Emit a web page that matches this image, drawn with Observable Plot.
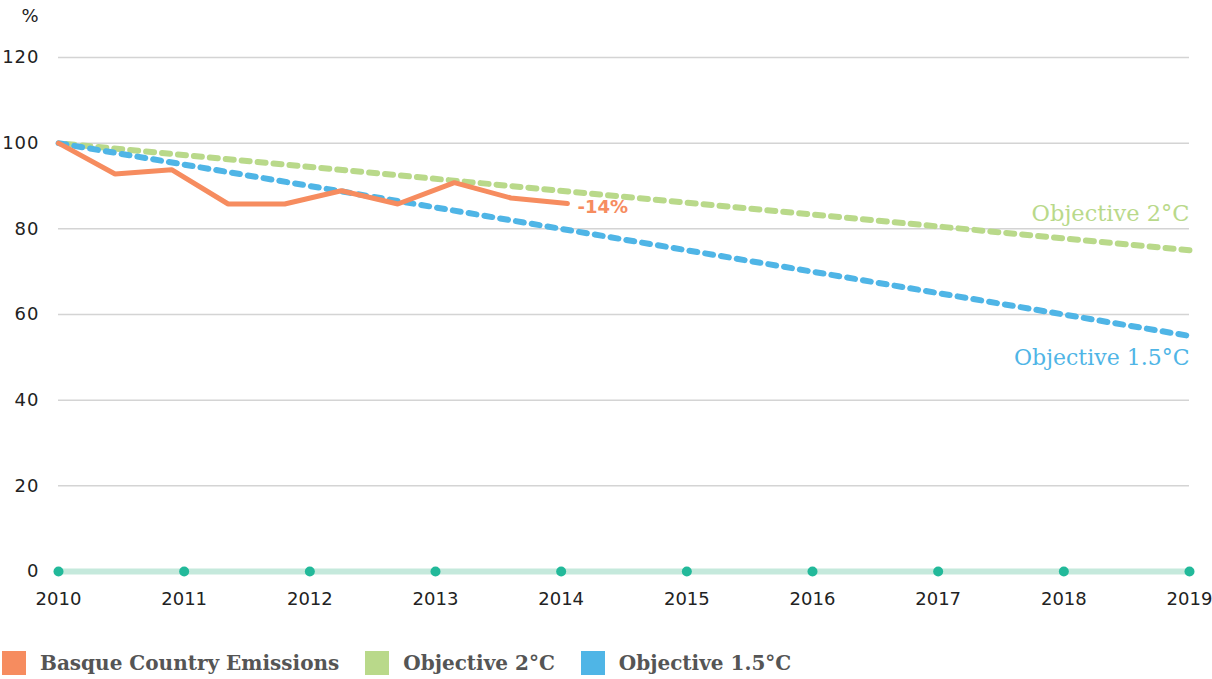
<!DOCTYPE html>
<html>
<head>
<meta charset="utf-8">
<script src="https://cdn.jsdelivr.net/npm/d3@7"></script>
<script src="https://cdn.jsdelivr.net/npm/@observablehq/plot@0.6"></script>
<style>
  body { margin: 0; background: #fff; }
  #chart svg { display: block; }
  #chart g[aria-label="y-axis tick label"] text { letter-spacing: 1px; }
  .legend { display: flex; align-items: center; height: 26px; margin-top: 20px; margin-left: 2px;
    font-family: "DejaVu Serif", serif; font-weight: bold; font-size: 20px; color: #555; }
  .legend .sw { width: 24px; height: 24px; display: inline-block; margin-right: 14px; }
  .legend .item { display: flex; align-items: center; margin-right: 26px; }
</style>
</head>
<body>
<div id="chart"></div>
<script>
// ---- data ----
const years = [2010, 2011, 2012, 2013, 2014, 2015, 2016, 2017, 2018, 2019];
const emissionX = [2010, 2010.45, 2010.9, 2011.35, 2011.8, 2012.25, 2012.7, 2013.15, 2013.6, 2014.05];
const emissionValues = [100, 92.8, 93.8, 85.8, 85.8, 88.9, 85.8, 90.8, 87.2, 85.9];
const objectiveYears = [2010, 2019];
const objective2 = [100, 75];
const objective15 = [100, 55];
const yTicks = [0, 20, 40, 60, 80, 100, 120];
const seriesNames = ["Basque Country Emissions", "Objective 2°C", "Objective 1.5°C"];
const seriesColors = ["#f68c5f", "#b9d98a", "#4fb5e6"];
const endLabel = "-14%";

const emissions = emissionX.map((x, i) => ({x, y: emissionValues[i]}));
const obj2 = objectiveYears.map((x, i) => ({x, y: objective2[i]}));
const obj15 = objectiveYears.map((x, i) => ({x, y: objective15[i]}));

const tickFont = "DejaVu Sans, sans-serif";

const chart = Plot.plot({
  width: 1212,
  height: 630,
  marginTop: 57,
  marginBottom: 59,
  marginLeft: 58,
  marginRight: 23,
  style: {fontFamily: tickFont, fontSize: "18px", color: "#222", background: "#fff"},
  x: {domain: [2010, 2019]},
  y: {domain: [0, 120]},
  marks: [
    Plot.gridY(yTicks.filter(d => d > 0), {stroke: "#d4d4d4", strokeOpacity: 1, strokeWidth: 1.5}),
    Plot.axisY(yTicks, {tickSize: 0, tickPadding: 19, label: null, fontSize: 18, fill: "#222"}),
    Plot.axisX(years, {tickSize: 0, tickPadding: 21, label: null, tickFormat: d => String(d), fontSize: 18, fill: "#222"}),
    Plot.text(["%"], {frameAnchor: "top-left", dx: -20, dy: -41, textAnchor: "end", fontSize: 18, fill: "#222", lineAnchor: "middle"}),
    Plot.ruleY([0], {stroke: "#c5e9dc", strokeWidth: 6}),
    Plot.dot(years, {x: d => d, y: d => 0, r: 5, fill: "#22b99a", stroke: null}),
    Plot.line(obj2, {x: "x", y: "y", stroke: seriesColors[1], strokeWidth: 6, strokeDasharray: "8,8", strokeDashoffset: -8}),
    Plot.line(obj15, {x: "x", y: "y", stroke: seriesColors[2], strokeWidth: 6, strokeDasharray: "8,8"}),
    Plot.line(emissions, {x: "x", y: "y", stroke: seriesColors[0], strokeWidth: 5, strokeLinejoin: "miter"}),
    Plot.text([emissions[emissions.length - 1]], {x: "x", y: "y", text: d => endLabel, dx: 10, dy: 4, textAnchor: "start",
      fill: seriesColors[0], fontWeight: "bold", fontSize: 18, fontFamily: tickFont}),
    Plot.text([obj2[1]], {x: "x", y: "y", text: d => seriesNames[1], dy: -36, textAnchor: "end",
      fill: seriesColors[1], fontSize: 22.5, fontFamily: "DejaVu Serif, serif"}),
    Plot.text([obj15[1]], {x: "x", y: "y", text: d => seriesNames[2], dy: 22, textAnchor: "end",
      fill: seriesColors[2], fontSize: 22, fontFamily: "DejaVu Serif, serif"})
  ]
});
document.getElementById("chart").appendChild(chart);

const legend = document.createElement("div");
legend.className = "legend";
seriesNames.forEach((name, i) => {
  const item = document.createElement("div");
  item.className = "item";
  const sw = document.createElement("span");
  sw.className = "sw";
  sw.style.background = seriesColors[i];
  const label = document.createElement("span");
  label.textContent = name;
  item.appendChild(sw);
  item.appendChild(label);
  legend.appendChild(item);
});
document.body.appendChild(legend);
</script>
</body>
</html>
